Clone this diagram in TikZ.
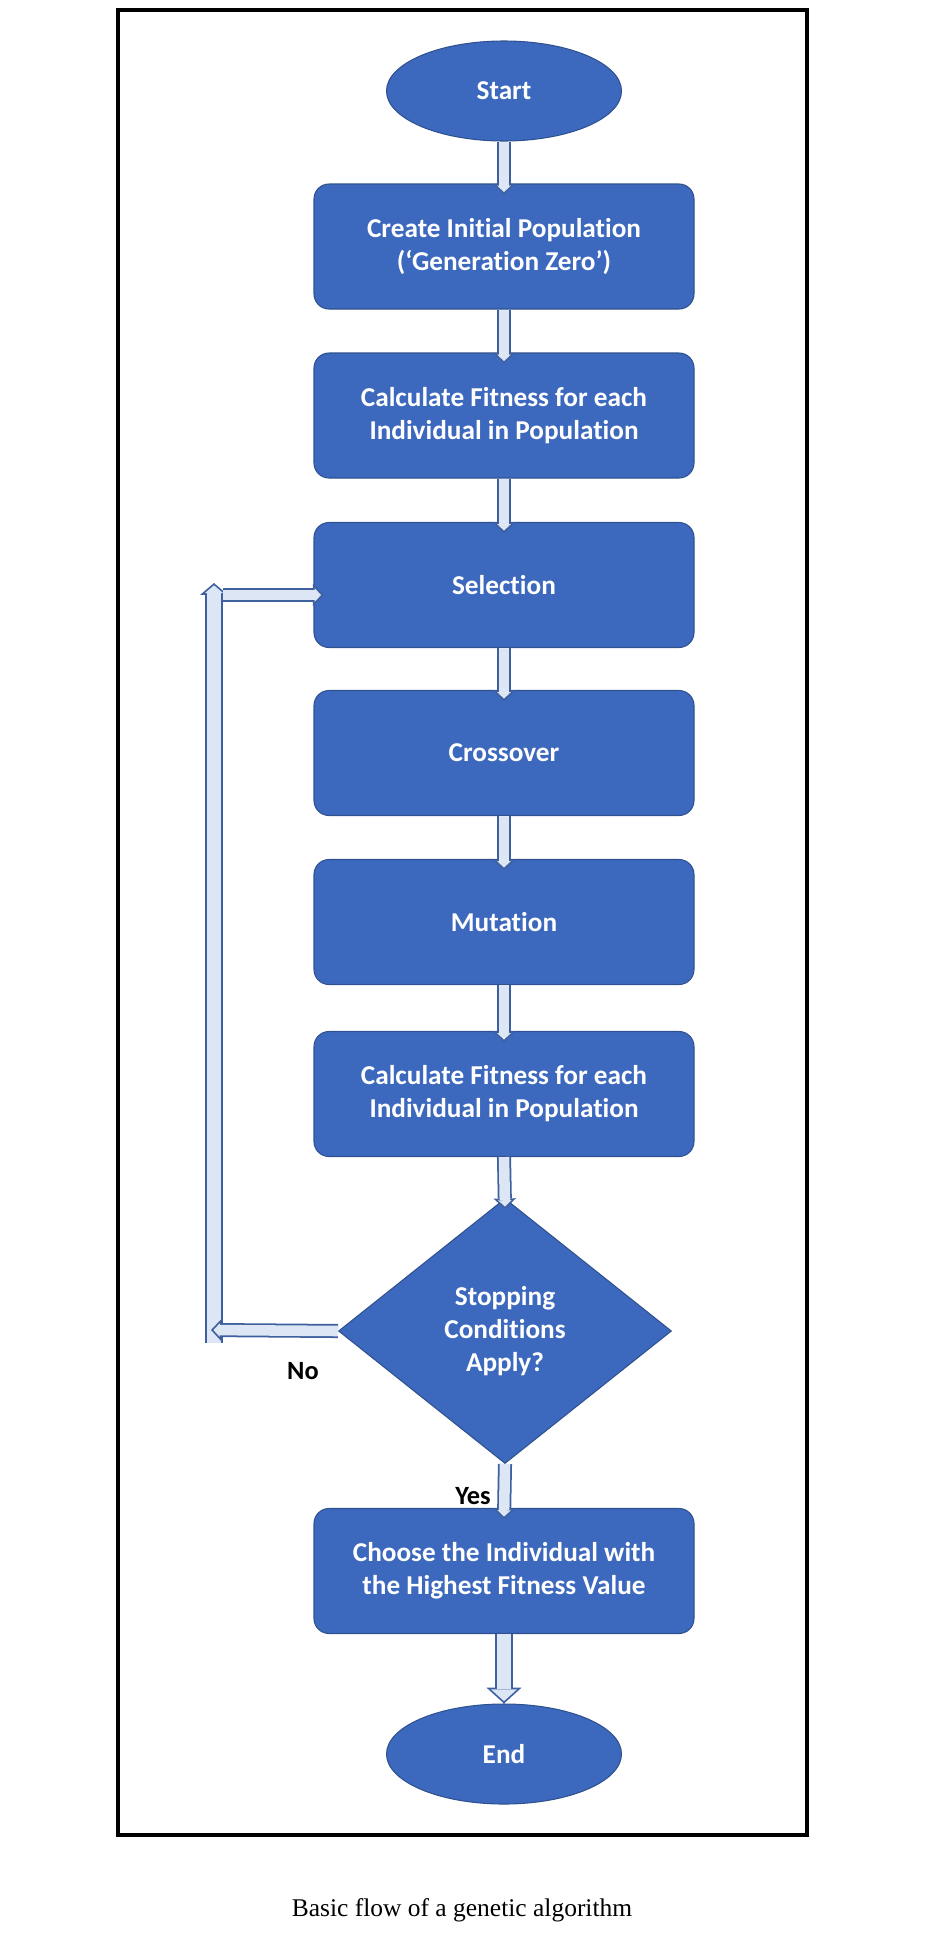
\documentclass[tikz,border=0pt]{standalone}
\usepackage{fontspec}
\setmainfont{Liberation Serif}
\newfontfamily\calfont[Ligatures=NoCommon]{Carlito}
\usepackage{xcolor}
\usepackage{tikz}
\usetikzlibrary{positioning, arrows.meta, shapes.geometric, calc}
\definecolor{FlowBlue}{RGB}{60,104,190}
\definecolor{FlowEdge}{RGB}{47,82,143}
\definecolor{ArrowFill}{RGB}{220,230,244}
\definecolor{ArrowEdge}{RGB}{62,96,158}
\tikzset{
  flowtxt/.style={draw=FlowEdge, line width=0.6pt, fill=FlowBlue, text=white, align=center,
    font=\calfont\bfseries\fontsize{15.5}{18.8}\selectfont},
  gabox/.style={flowtxt, rounded corners=0.3cm, minimum width=7.6cm, minimum height=2.5cm},
  termnode/.style={flowtxt, ellipse, minimum width=4.7cm, minimum height=2cm},
  decnode/.style={flowtxt, diamond, minimum width=6.66cm, minimum height=5.3cm, inner sep=0pt},
  flowarr/.style={draw=ArrowEdge, line width=8pt, -{Triangle[length=6pt, width=12.8pt, line width=0pt]},
    postaction={draw=ArrowFill, line width=6pt, -{Triangle[length=3.63pt, width=7.75pt, line width=0pt]},
      shorten >=1.37pt}},
  loopbar/.style={draw=ArrowEdge, line width=10.2pt, -{Triangle[length=6.8pt, width=15.9pt, line width=0pt]},
    postaction={draw=ArrowFill, line width=8.2pt, -{Triangle[length=4.48pt, width=10.5pt, line width=0pt]},
      shorten >=1.32pt}},
  bigarr/.style={draw=ArrowEdge, line width=10.2pt, -{Triangle[length=9pt, width=19.9pt, line width=0pt]},
    postaction={draw=ArrowFill, line width=8.2pt, -{Triangle[length=6.65pt, width=14.7pt, line width=0pt]},
      shorten >=1.35pt}},
  lbl/.style={font=\calfont\bfseries\fontsize{15}{18}\selectfont, text=black, inner sep=1pt},
}
\begin{document}
\begin{tikzpicture}
  \useasboundingbox (0,0) rectangle (18.6,-38.96);
  \draw[line width=2pt] (2.36,-0.2) rectangle (16.14,-36.7);

  \node[termnode] (start) at (10.08,-1.82) {Start};
  \node[gabox] (init) at (10.08,-4.93) {Create Initial Population\\(‘Generation Zero’)};
  \node[gabox] (fit1) at (10.08,-8.31) {Calculate Fitness for each\\Individual in Population};
  \node[gabox] (sel) at (10.08,-11.70) {Selection};
  \node[gabox] (cross) at (10.08,-15.06) {Crossover};
  \node[gabox] (mut) at (10.08,-18.44) {Mutation};
  \node[gabox] (fit2) at (10.08,-21.88) {Calculate Fitness for each\\Individual in Population};
  \node[decnode] (stop) at (10.10,-26.62) {Stopping\\Conditions\\Apply?};
  \node[gabox] (best) at (10.08,-31.42) {Choose the Individual with\\the Highest Fitness Value};
  \node[termnode] (endn) at (10.08,-35.08) {End};

  \draw[flowarr] (start.south) -- ([yshift=-0.22cm]init.north);
  \draw[flowarr] (init.south) -- ([yshift=-0.22cm]fit1.north);
  \draw[flowarr] (fit1.south) -- ([yshift=-0.22cm]sel.north);
  \draw[flowarr] (sel.south) -- ([yshift=-0.22cm]cross.north);
  \draw[flowarr] (cross.south) -- ([yshift=-0.22cm]mut.north);
  \draw[flowarr] (mut.south) -- ([yshift=-0.22cm]fit2.north);
  \draw[flowarr] (fit2.south) -- ([yshift=-0.22cm]stop.north);
  \draw[flowarr] (stop.south) -- ([yshift=-0.22cm]best.north);
  \draw[bigarr] (best.south) -- (endn.north);

  \coordinate (upB) at (4.28,-26.86);
  \coordinate (upT) at (4.28,-11.66);
  \coordinate (noL) at (4.22,-26.6);
  \coordinate (selA) at (4.46,-11.9);
  \draw[loopbar] (upB) -- (upT);
  \draw[flowarr] (stop.west) -- (noL);
  \draw[flowarr] (selA) -- ($(sel.west |- selA)+(0.2,0)$);

  \node[lbl] (no) at (6.06,-27.42) {No};
  \node[lbl] (yes) at (9.46,-29.92) {Yes};

  \node[font=\fontsize{14.5}{17}\selectfont] (cap) at (9.24,-38.2) {Basic flow of a genetic algorithm};
\end{tikzpicture}
\end{document}
